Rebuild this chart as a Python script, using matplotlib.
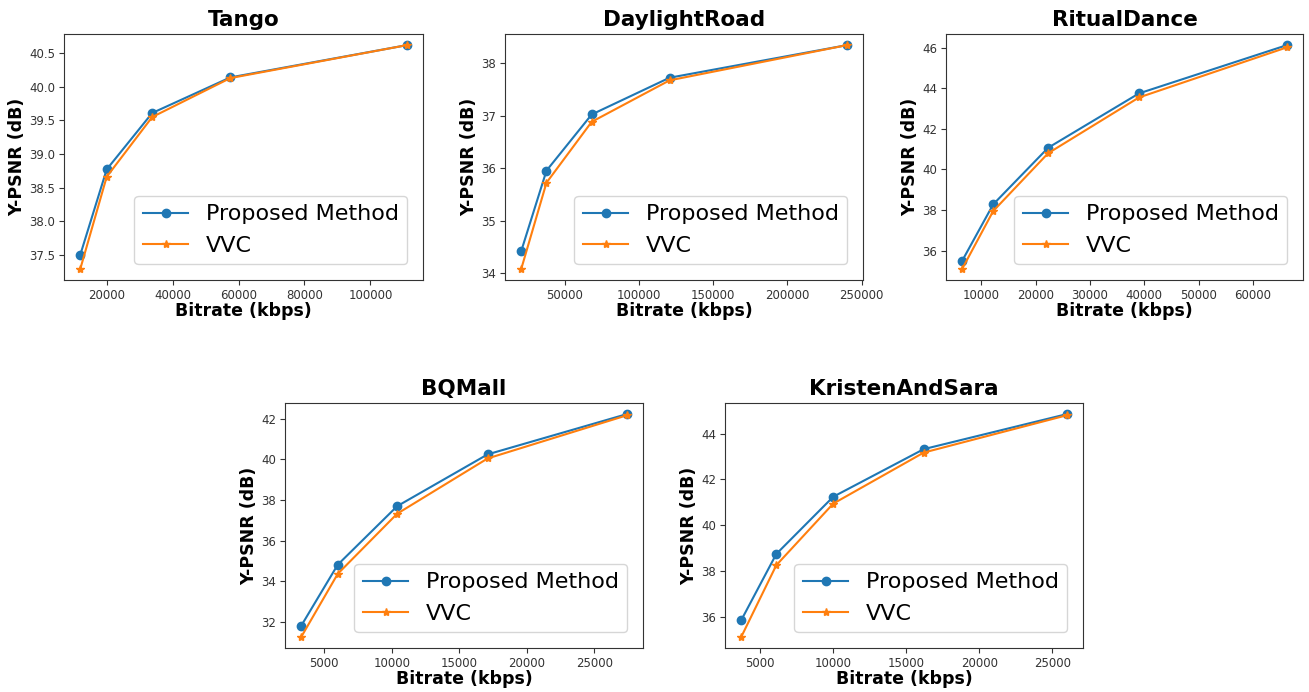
import matplotlib
matplotlib.use("Agg")
import matplotlib.pyplot as plt

titles = ["Tango", "DaylightRoad", "RitualDance", "BQMall", "KristenAndSara"]

bitrates = [
    [12000, 20000, 33800, 57500, 111000],
    [20500, 37500, 68000, 120500, 240000],
    [6500, 12200, 22300, 39000, 66200],
    [3300, 6000, 10400, 17100, 27400],
    [3700, 6100, 10000, 16200, 26000],
]

proposed = [
    [37.50, 38.77, 39.61, 40.14, 40.62],
    [34.42, 35.95, 37.02, 37.72, 38.34],
    [35.50, 38.28, 41.07, 43.75, 46.13],
    [31.82, 34.82, 37.70, 40.25, 42.23],
    [35.85, 38.74, 41.24, 43.32, 44.85],
]

vvc = [
    [37.29, 38.66, 39.55, 40.13, 40.62],
    [34.08, 35.72, 36.88, 37.67, 38.34],
    [35.10, 37.95, 40.80, 43.55, 46.02],
    [31.27, 34.37, 37.33, 40.05, 42.17],
    [35.12, 38.25, 40.94, 43.17, 44.80],
]

W, H = 1309, 692
# axes boxes in pixels: left, top, right, bottom
boxes = [
    (64, 34, 423, 280),
    (505, 34, 863, 280),
    (946, 34, 1303, 280),
    (285, 403, 643, 648),
    (725, 403, 1083, 648),
]

fig = plt.figure(figsize=(W / 100, H / 100), dpi=100)

for i, title in enumerate(titles):
    l, t, r, b = boxes[i]
    ax = fig.add_axes([l / W, 1 - b / H, (r - l) / W, (b - t) / H])
    ax.plot(bitrates[i], proposed[i], marker="o", color="#1f77b4",
            lw=1.5, ms=6, label="Proposed Method")
    ax.plot(bitrates[i], vvc[i], marker="*", color="#ff7f0e",
            lw=1.5, ms=6, label="VVC")
    ax.set_title(title, fontsize=15.5, fontweight="bold", pad=6)
    ax.set_xlabel("Bitrate (kbps)", fontsize=12.5, fontweight="bold", labelpad=0)
    ax.set_ylabel("Y-PSNR (dB)", fontsize=12.5, fontweight="bold", labelpad=2)
    ax.tick_params(labelsize=8.5, colors="#333333", pad=3)
    for s in ax.spines.values():
        s.set_color("#333333")
    ax.legend(loc="lower right", fontsize=16, borderaxespad=0.7)

fig.savefig("out.png", dpi=100, facecolor="white")
